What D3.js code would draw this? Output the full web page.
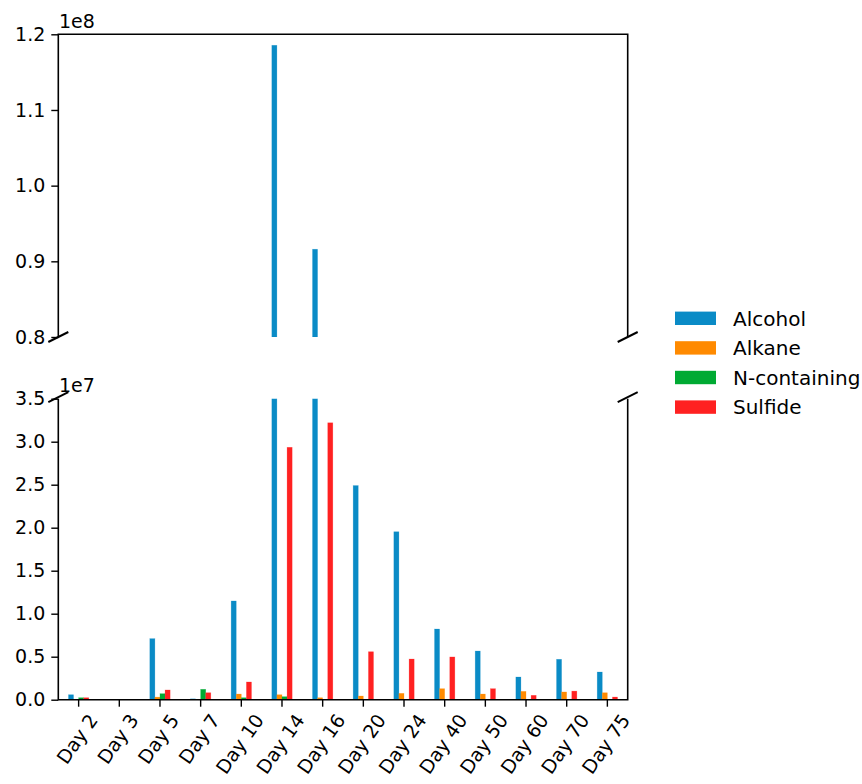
<!DOCTYPE html>
<html>
<head>
<meta charset="utf-8">
<script src="https://cdn.jsdelivr.net/npm/d3@7"></script>
<style>
  body { margin: 0; background: #fff; }
  svg { display: block; }
  text { font-family: "DejaVu Sans", sans-serif; fill: #000; }
</style>
</head>
<body>
<svg id="chart" width="862" height="784"></svg>
<script>
// ---------- data ----------
const categories = ["Day 2","Day 3","Day 5","Day 7","Day 10","Day 14","Day 16","Day 20","Day 24","Day 40","Day 50","Day 60","Day 70","Day 75"];
const seriesNames = ["Alcohol","Alkane","N-containing","Sulfide"];
const alcohol     = [5.8e5, 0, 7.1e6, 1.0e5, 1.148e7, 1.1855e8, 9.16e7, 2.49e7, 1.953e7, 8.22e6, 5.66e6, 2.64e6, 4.70e6, 3.22e6];
const alkane      = [3.0e4, 0, 3.0e5, 1.0e4, 6.6e5, 5.8e5, 2.3e5, 4.3e5, 7.4e5, 1.28e6, 6.6e5, 9.7e5, 9.0e5, 8.1e5];
const nContaining = [2.3e5, 0, 7.0e5, 1.21e6, 2.3e5, 3.5e5, 2.0e4, 3.0e4, 1.0e4, 1.0e4, 0, 0, 0, 0];
const sulfide     = [2.3e5, 0, 1.13e6, 8.1e5, 2.06e6, 2.935e7, 3.22e7, 5.58e6, 4.73e6, 4.97e6, 1.28e6, 5.1e5, 1.0e6, 3.1e5];
const colors = ["#0a8bc6", "#ff8a00", "#00aa33", "#ff2121"];
const topTicks = [0.8e8, 0.9e8, 1.0e8, 1.1e8, 1.2e8];
const bottomTicks = [0, 0.5e7, 1.0e7, 1.5e7, 2.0e7, 2.5e7, 3.0e7, 3.5e7];

const seriesValues = [alcohol, alkane, nContaining, sulfide];

// ---------- layout ----------
const L = 58.3, R = 627.7;
const topY0 = 34.3, topY1 = 337;
const botY0 = 398.7, botY1 = 699.7;
const FS = 19;
const LEG_FS = 20;
const ROT = 55;

const svg = d3.select("#chart");

const x = d3.scaleBand().domain(categories).range([L, R]).paddingInner(0).paddingOuter(0);
const bw = x.bandwidth();
const xSub = d3.scaleBand().domain(seriesNames).range([-0.25 * bw, 0.25 * bw]).padding(0);

const yTop = d3.scaleLinear().domain([0.8e8, 1.2e8]).range([topY1, topY0]);
const yBot = d3.scaleLinear().domain([0, 3.5e7]).range([botY1, botY0]);

const defs = svg.append("defs");
defs.append("clipPath").attr("id", "clipTop").append("rect")
  .attr("x", L).attr("y", topY0).attr("width", R - L).attr("height", topY1 - topY0);
defs.append("clipPath").attr("id", "clipBot").append("rect")
  .attr("x", L).attr("y", botY0).attr("width", R - L).attr("height", botY1 - botY0);

const rows = [];
categories.forEach((c, i) => {
  seriesNames.forEach((s, j) => rows.push({ cat: c, series: s, value: seriesValues[j][i], color: colors[j] }));
});

function drawBars(g, y, clipId) {
  const [d0] = y.domain();
  g.attr("clip-path", `url(#${clipId})`)
    .selectAll("rect").data(rows.filter(d => d.value > d0)).join("rect")
    .attr("x", d => x(d.cat) + bw / 2 + xSub(d.series))
    .attr("width", xSub.bandwidth())
    .attr("y", d => y(d.value))
    .attr("height", d => y(d0) - y(d.value))
    .attr("fill", d => d.color)
    .attr("stroke", d => d.color)
    .attr("stroke-opacity", 0.35)
    .attr("stroke-width", 0.6);
}
drawBars(svg.append("g"), yTop, "clipTop");
drawBars(svg.append("g"), yBot, "clipBot");

// ---------- axes ----------
function styleAxis(g) {
  g.select(".domain").remove();
  g.selectAll(".tick line").attr("stroke", "#000").attr("stroke-width", 1.4);
  g.selectAll(".tick text").attr("font-size", FS).attr("font-family", "DejaVu Sans").attr("fill", "#000");
}
const fmt = d3.format(".1f");
svg.append("g").attr("transform", `translate(${L},0)`)
  .call(d3.axisLeft(yTop).tickValues(topTicks).tickSize(7).tickPadding(6).tickFormat(d => fmt(d / 1e8)))
  .call(styleAxis);
svg.append("g").attr("transform", `translate(${L},0)`)
  .call(d3.axisLeft(yBot).tickValues(bottomTicks).tickSize(7).tickPadding(6).tickFormat(d => fmt(d / 1e7)))
  .call(styleAxis);

const xAxisG = svg.append("g").attr("transform", `translate(0,${botY1})`)
  .call(d3.axisBottom(x).tickSize(7).tickFormat(""));
styleAxis(xAxisG);

// rotated x labels, bounding box centred on tick (matplotlib-style rotation)
const asc = 0.76 * FS, desc = 0.24 * FS, labelTop = botY1 + 7 + 5;
const th = ROT * Math.PI / 180, ct = Math.cos(th), st = Math.sin(th);
const lab = svg.append("g");
categories.forEach(c => {
  const t = lab.append("text").attr("font-size", FS).attr("text-anchor", "end").text(c);
  const len = t.node().getComputedTextLength();
  const cx = x(c) + bw / 2;
  const ax = cx + 0.5 * (len * ct + (asc - desc) * st);
  const ay = labelTop + asc * ct;
  t.attr("transform", `translate(${ax},${ay}) rotate(${-ROT})`);
});

// ---------- spines ----------
const sp = svg.append("g").attr("stroke", "#000").attr("stroke-width", 1.6).attr("fill", "none");
sp.append("path").attr("d", `M${L},${topY1}V${topY0}H${R}V${topY1}`);
sp.append("path").attr("d", `M${L},${botY0}V${botY1}H${R}V${botY0}`);

// break marks
const br = svg.append("g").attr("stroke", "#000").attr("stroke-width", 2);
[[L, topY1], [R, topY1], [L, botY0 - 1.5], [R, botY0 - 1.5]].forEach(([px, py]) => {
  br.append("line").attr("x1", px - 10).attr("y1", py + 5).attr("x2", px + 10).attr("y2", py - 5);
});

// offset labels
svg.append("text").attr("x", 59).attr("y", 28).attr("font-size", FS).text("1e8");
svg.append("text").attr("x", 59).attr("y", 391.5).attr("font-size", FS).text("1e7");

// ---------- legend ----------
const leg = svg.append("g");
seriesNames.forEach((s, j) => {
  const cy = 318.3 + j * 29.6;
  leg.append("rect").attr("x", 675).attr("y", cy - 6.7).attr("width", 41).attr("height", 13.4).attr("fill", colors[j]);
  leg.append("text").attr("x", 733).attr("y", cy + 7.3).attr("font-size", LEG_FS).text(s);
});
</script>
</body>
</html>
